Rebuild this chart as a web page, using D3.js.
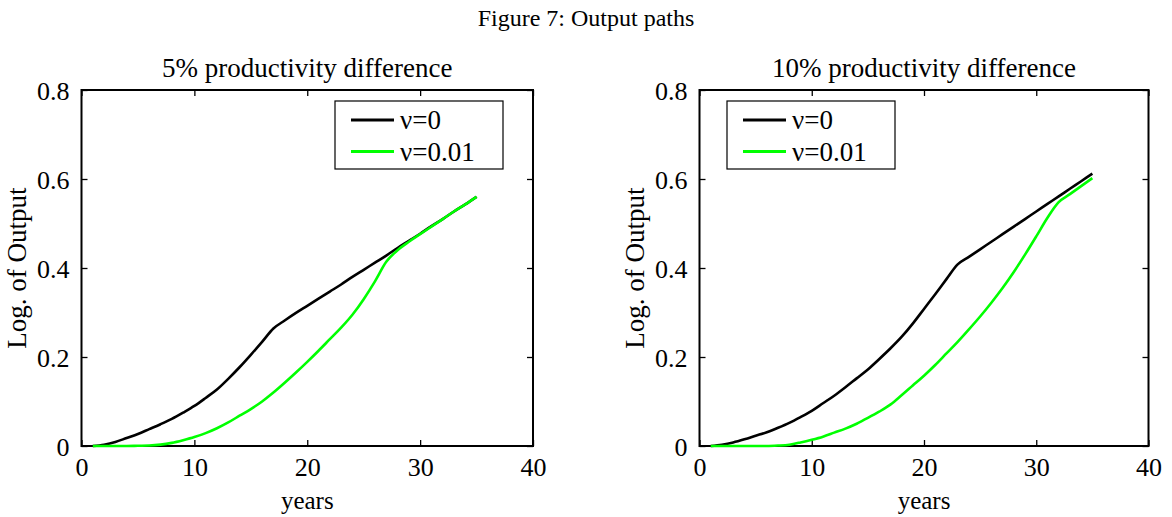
<!DOCTYPE html>
<html>
<head>
<meta charset="utf-8">
<script src="https://cdn.jsdelivr.net/npm/d3@7"></script>
<style>
  html, body { margin: 0; padding: 0; background: #fff; }
  svg { display: block; }
  text { font-family: "Liberation Serif", "Times New Roman", serif; fill: #000; }
</style>
</head>
<body>
<svg id="chart" width="1172" height="517"></svg>
<script>
// ---- data ----
const years = d3.range(1, 36);
const xTicks = [0, 10, 20, 30, 40];
const yTicks = [0, 0.2, 0.4, 0.6, 0.8];
const yTickLabels = ["0", "0.2", "0.4", "0.6", "0.8"];
const seriesNames = ["\u03bd=0", "\u03bd=0.01"];
const seriesColors = ["#000000", "#00ff00"];

const left_nu0 = [0, 0.003, 0.009, 0.018, 0.027, 0.038, 0.049, 0.061, 0.075, 0.090,
  0.108, 0.127, 0.151, 0.177, 0.205, 0.234, 0.264, 0.282, 0.299, 0.315,
  0.331, 0.347, 0.363, 0.380, 0.396, 0.412, 0.428, 0.445, 0.461, 0.477,
  0.494, 0.510, 0.527, 0.543, 0.560];
const left_nu001 = [0, 0, 0, 0, 0.0005, 0.001, 0.003, 0.007, 0.013, 0.020,
  0.029, 0.040, 0.053, 0.068, 0.083, 0.100, 0.120, 0.142, 0.165, 0.189,
  0.214, 0.240, 0.266, 0.295, 0.330, 0.370, 0.414, 0.440, 0.459, 0.476,
  0.493, 0.510, 0.527, 0.543, 0.560];
const right_nu0 = [0, 0.003, 0.008, 0.015, 0.023, 0.031, 0.041, 0.052, 0.065, 0.079,
  0.096, 0.113, 0.132, 0.152, 0.172, 0.195, 0.219, 0.245, 0.275, 0.308,
  0.341, 0.375, 0.408, 0.425, 0.442, 0.459, 0.476, 0.493, 0.510, 0.527,
  0.544, 0.561, 0.578, 0.595, 0.612];
const right_nu001 = [0, 0, 0, 0, 0, 0, 0.001, 0.003, 0.008, 0.014,
  0.021, 0.030, 0.039, 0.050, 0.063, 0.077, 0.093, 0.114, 0.136, 0.158,
  0.182, 0.208, 0.234, 0.262, 0.291, 0.322, 0.355, 0.391, 0.430, 0.471,
  0.513, 0.548, 0.566, 0.584, 0.602];

const figTitle = "Figure 7:  Output paths";
const panelTitles = ["5% productivity difference", "10% productivity difference"];
const xLabel = "years";
const yLabel = "Log. of Output";

// ---- layout ----
const svg = d3.select("#chart");
const panels = [
  { x0: 81.5, x1: 533, title: panelTitles[0], series: [left_nu0, left_nu001], legend: { x: 335, y: 101, w: 168, h: 68 } },
  { x0: 699.5, x1: 1148.5, title: panelTitles[1], series: [right_nu0, right_nu001], legend: { x: 727, y: 101, w: 168, h: 68 } }
];
const yTop = 90, yBot = 446;

svg.append("text")
  .attr("x", 586).attr("y", 26)
  .attr("text-anchor", "middle")
  .style("font-size", "24px")
  .text(figTitle);

panels.forEach(p => {
  const x = d3.scaleLinear().domain([0, 40]).range([p.x0, p.x1]);
  const y = d3.scaleLinear().domain([0, 0.8]).range([yBot, yTop]);
  const g = svg.append("g");

  // ticks (inward, all four sides)
  const xb = g.append("g").attr("transform", `translate(0,${yBot})`)
    .call(d3.axisBottom(x).tickValues(xTicks).tickSize(-6).tickPadding(12).tickFormat(d3.format("d")));
  const xt = g.append("g").attr("transform", `translate(0,${yTop})`)
    .call(d3.axisTop(x).tickValues(xTicks).tickSize(-6).tickFormat(""));
  const yl = g.append("g").attr("transform", `translate(${p.x0},0)`)
    .call(d3.axisLeft(y).tickValues(yTicks).tickSize(-6).tickPadding(12).tickFormat((d, i) => yTickLabels[i]));
  const yr = g.append("g").attr("transform", `translate(${p.x1},0)`)
    .call(d3.axisRight(y).tickValues(yTicks).tickSize(-6).tickFormat(""));
  [xb, xt, yl, yr].forEach(a => {
    a.select(".domain").remove();
    a.selectAll(".tick line").attr("stroke", "#000").attr("stroke-width", 1.3);
    a.selectAll(".tick text").style("font-size", "26px").style("font-family", "Liberation Serif, serif").attr("fill", "#000");
  });
  xb.selectAll(".tick text").attr("dy", "0.71em");
  yl.selectAll(".tick text").attr("dy", "0.35em");

  // frame
  g.append("rect")
    .attr("x", p.x0).attr("y", yTop)
    .attr("width", p.x1 - p.x0).attr("height", yBot - yTop)
    .attr("fill", "none").attr("stroke", "#000").attr("stroke-width", 2);

  // lines
  const line = d3.line().curve(d3.curveMonotoneX).x((d, i) => x(years[i])).y(d => y(d));
  p.series.forEach((s, k) => {
    g.append("path").datum(s)
      .attr("d", line)
      .attr("fill", "none")
      .attr("stroke", seriesColors[k])
      .attr("stroke-width", 2.6)
      .attr("stroke-linejoin", "round");
  });

  // title
  g.append("text")
    .attr("x", (p.x0 + p.x1) / 2).attr("y", 77)
    .attr("text-anchor", "middle")
    .style("font-size", "27px")
    .text(p.title);

  // x label
  g.append("text")
    .attr("x", (p.x0 + p.x1) / 2).attr("y", 509)
    .attr("text-anchor", "middle")
    .style("font-size", "25px")
    .text(xLabel);

  // y label
  g.append("text")
    .attr("transform", `translate(${p.x0 - 56},${(yTop + yBot) / 2}) rotate(-90)`)
    .attr("text-anchor", "middle")
    .style("font-size", "27px")
    .text(yLabel);

  // legend
  const L = p.legend;
  const lg = g.append("g");
  lg.append("rect").attr("x", L.x).attr("y", L.y).attr("width", L.w).attr("height", L.h)
    .attr("fill", "#fff").attr("stroke", "#000").attr("stroke-width", 1.2);
  seriesNames.forEach((nm, k) => {
    const cy = L.y + 19 + k * 31.5;
    lg.append("line").attr("x1", L.x + 16).attr("x2", L.x + 59).attr("y1", cy).attr("y2", cy)
      .attr("stroke", seriesColors[k]).attr("stroke-width", 3);
    lg.append("text").attr("x", L.x + 65).attr("y", cy).attr("dy", "0.35em")
      .style("font-size", "27px").text(nm);
  });
});
</script>
</body>
</html>
